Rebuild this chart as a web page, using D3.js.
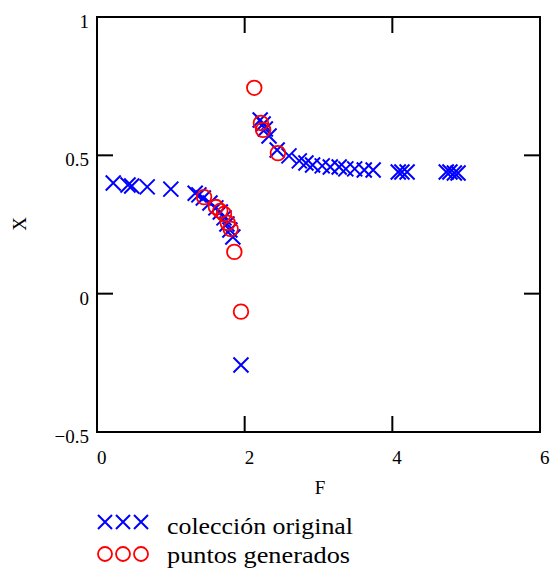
<!DOCTYPE html>
<html>
<head>
<meta charset="utf-8">
<script src="https://cdn.jsdelivr.net/npm/d3@7"></script>
<style>
  body { margin: 0; background: #fff; }
</style>
</head>
<body>
<div class="chart"></div>
<script>
// colección original (F, X)
var origF = [0.22, 0.42, 0.47, 0.68, 1.00, 1.33, 1.38, 1.44, 1.53, 1.61, 1.67, 1.72, 1.76, 1.80, 1.84, 1.95,
             2.21, 2.25, 2.28, 2.33, 2.44, 2.60, 2.74, 2.83, 2.92, 3.05, 3.16, 3.28, 3.37, 3.49, 3.62, 3.74,
             4.08, 4.13, 4.20, 4.73, 4.78, 4.84, 4.89];
var origX = [0.400, 0.393, 0.389, 0.386, 0.378, 0.363, 0.357, 0.346, 0.328, 0.310, 0.295, 0.274, 0.252, 0.230, 0.205, -0.258,
             0.628, 0.613, 0.595, 0.570, 0.519, 0.498, 0.480, 0.472, 0.465, 0.462, 0.458, 0.458, 0.451, 0.451, 0.447, 0.447,
             0.440, 0.440, 0.440, 0.440, 0.440, 0.436, 0.436];
// puntos generados (F, X)
var genF = [1.45, 1.61, 1.67, 1.72, 1.77, 1.81, 1.86, 1.95, 2.13, 2.22, 2.25, 2.45];
var genX = [0.349, 0.313, 0.299, 0.288, 0.256, 0.234, 0.151, -0.065, 0.744, 0.617, 0.592, 0.508];

var xTicks = [0, 2, 4, 6];
var yTicks = [-0.5, 0, 0.5, 1];
var legendLabels = ['colección original', 'puntos generados'];

(function() {
    var width = 553, height = 572;
    var pLeft = 97, pTop = 17, pRight = 540, pBottom = 432;
    var tickLen = 16;

    var svg = d3.select('.chart').append('svg')
        .attr('width', width)
        .attr('height', height)
        .style('font-family', '"Liberation Serif", "DejaVu Serif", serif');

    var x = d3.scaleLinear().domain([0, 6]).range([pLeft, pRight]);
    var y = d3.scaleLinear().domain([-0.5, 1]).range([pBottom, pTop]);

    var orig = origF.map(function(f, i) { return {f: f, x: origX[i]}; });
    var gen = genF.map(function(f, i) { return {f: f, x: genX[i]}; });

    // frame
    svg.append('rect')
        .attr('x', pLeft).attr('y', pTop)
        .attr('width', pRight - pLeft).attr('height', pBottom - pTop)
        .attr('fill', 'none').attr('stroke', '#000').attr('stroke-width', 2);

    // inward ticks on all sides
    var g = svg.append('g').attr('stroke', '#000').attr('stroke-width', 2);
    xTicks.slice(1, -1).forEach(function(t) {
        g.append('line').attr('x1', x(t)).attr('x2', x(t)).attr('y1', pBottom).attr('y2', pBottom - tickLen);
        g.append('line').attr('x1', x(t)).attr('x2', x(t)).attr('y1', pTop).attr('y2', pTop + tickLen);
    });
    yTicks.slice(1, -1).forEach(function(t) {
        g.append('line').attr('y1', y(t)).attr('y2', y(t)).attr('x1', pLeft).attr('x2', pLeft + tickLen);
        g.append('line').attr('y1', y(t)).attr('y2', y(t)).attr('x1', pRight).attr('x2', pRight - tickLen);
    });

    // tick labels
    svg.selectAll('.xlab').data(xTicks).enter().append('text')
        .attr('class', 'xlab')
        .attr('x', function(d) { return x(d); })
        .attr('y', 464)
        .attr('font-size', 19)
        .text(function(d) { return d; });

    svg.selectAll('.ylab').data(yTicks).enter().append('text')
        .attr('class', 'ylab')
        .attr('x', 89)
        .attr('y', function(d) { return y(d) + 11; })
        .attr('text-anchor', 'end')
        .attr('font-size', 19)
        .text(function(d) { return d < 0 ? '\u2212' + Math.abs(d) : d; });

    // axis titles
    svg.append('text')
        .attr('x', 320).attr('y', 494)
        .attr('text-anchor', 'middle')
        .attr('font-size', 19)
        .text('F');
    svg.append('text')
        .attr('transform', 'translate(26,224) rotate(-90)')
        .attr('text-anchor', 'middle')
        .attr('font-size', 19)
        .text('X');

    function cross(sel, s) {
        return sel.append('path')
            .attr('d', 'M' + (-s) + ',' + (-s) + 'L' + s + ',' + s + 'M' + (-s) + ',' + s + 'L' + s + ',' + (-s))
            .attr('fill', 'none')
            .attr('stroke', '#0000ff')
            .attr('stroke-width', 2);
    }

    // original points
    svg.append('g').selectAll('g').data(orig).enter().append('g')
        .attr('transform', function(d) { return 'translate(' + x(d.f) + ',' + y(d.x) + ')'; })
        .each(function() { cross(d3.select(this), 7.5); });

    // generated points
    svg.append('g').selectAll('circle').data(gen).enter().append('circle')
        .attr('cx', function(d) { return x(d.f); })
        .attr('cy', function(d) { return y(d.x); })
        .attr('r', 7.3)
        .attr('fill', 'none')
        .attr('stroke', '#ff0000')
        .attr('stroke-width', 1.8);

    // legend
    var leg = svg.append('g');
    [105, 123, 141].forEach(function(cx) {
        cross(leg.append('g').attr('transform', 'translate(' + cx + ',522)'), 7);
        leg.append('circle')
            .attr('cx', cx).attr('cy', 554).attr('r', 7)
            .attr('fill', 'none').attr('stroke', '#ff0000').attr('stroke-width', 1.8);
    });
    var legWidths = [186, 183];
    leg.selectAll('text').data(legendLabels).enter().append('text')
        .attr('x', 167)
        .attr('y', function(d, i) { return 534 + i * 29; })
        .attr('font-size', 23)
        .attr('textLength', function(d, i) { return legWidths[i]; })
        .attr('lengthAdjust', 'spacingAndGlyphs')
        .text(function(d) { return d; });
})();
</script>
</body>
</html>
